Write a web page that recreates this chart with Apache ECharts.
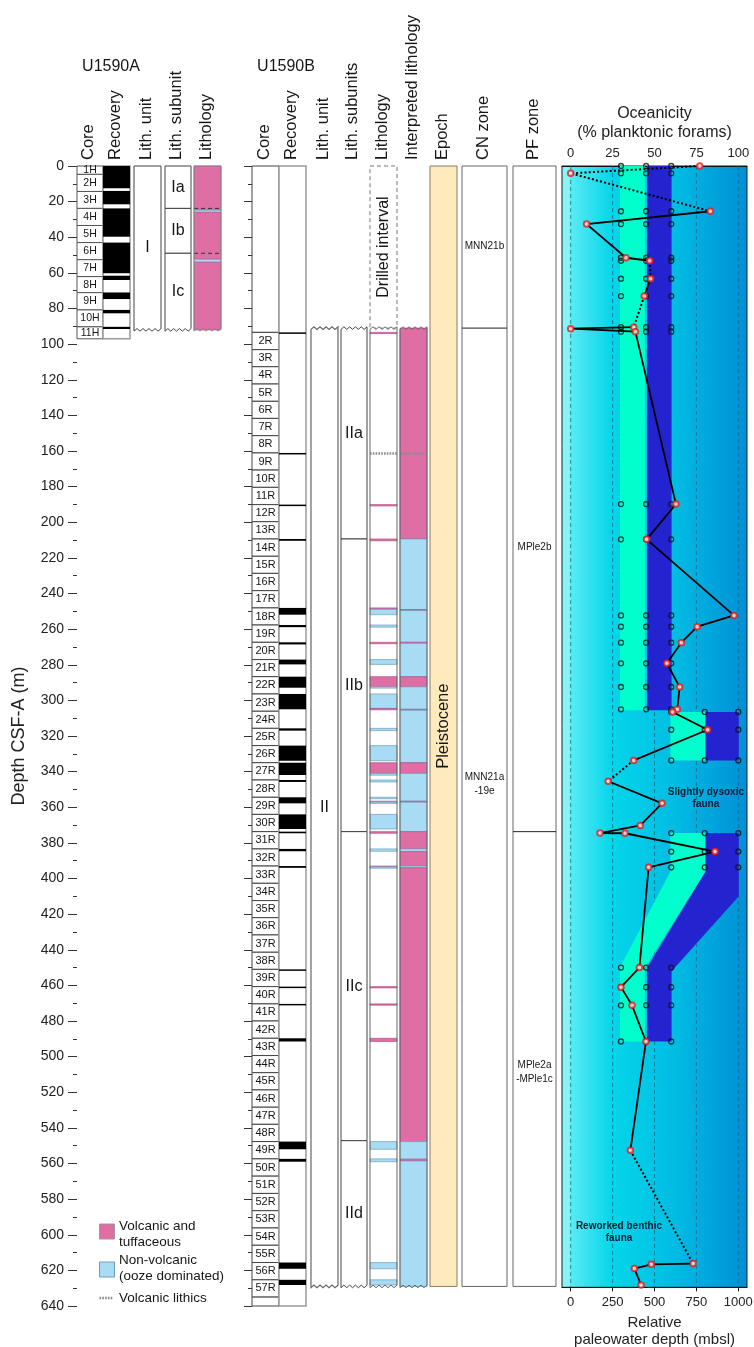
<!DOCTYPE html>
<html>
<head>
<meta charset="utf-8">
<script src="https://cdn.jsdelivr.net/npm/echarts@6/dist/echarts.min.js"></script>
<style>
  html, body { margin: 0; padding: 0; background: #fff; }
  #chart { width: 754px; height: 1347px; }
</style>
</head>
<body>
<div id="chart"></div>
<script>
// ---------------- Hole U1590A ----------------
const coreNamesA = ['1H', '2H', '3H', '4H', '5H', '6H', '7H', '8H', '9H', '10H', '11H'];
const coreTopsA = [0, 4.7, 14.3, 23.8, 33.4, 43.0, 52.6, 62.1, 71.1, 80.8, 90.3];
const holeBottomA = 97;
const recoveredA = [[0, 12.5], [14, 21.5], [23.8, 39.7], [43, 60.2], [61.6, 64], [71, 74.7], [80.8, 82.7], [90.3, 91.5]];
const unitsA = [['I', 0, 92]];
const subunitsA = [['Ia', 0, 23.8], ['Ib', 23.8, 49], ['Ic', 49, 92]];
const lithologyA = [['V', 0, 24.8], ['N', 24.8, 26], ['V', 26, 52.4], ['N', 52.4, 54], ['V', 54, 92]];

// ---------------- Hole U1590B ----------------
const coreNamesB = ['2R', '3R', '4R', '5R', '6R', '7R', '8R', '9R', '10R', '11R', '12R', '13R', '14R', '15R',
  '16R', '17R', '18R', '19R', '20R', '21R', '22R', '23R', '24R', '25R', '26R', '27R', '28R', '29R', '30R',
  '31R', '32R', '33R', '34R', '35R', '36R', '37R', '38R', '39R', '40R', '41R', '42R', '43R', '44R', '45R',
  '46R', '47R', '48R', '49R', '50R', '51R', '52R', '53R', '54R', '55R', '56R', '57R', ''];
const coreTopsB = [93.4, 103.1, 112.7, 122.4, 132.1, 141.7, 151.4, 161.1, 170.7, 180.4, 190.1, 199.7, 209.4,
  219.1, 228.7, 238.4, 248.1, 257.7, 267.4, 277.1, 286.7, 296.4, 306.1, 315.7, 325.4, 335.0, 344.7, 354.4,
  364.0, 373.7, 383.4, 393.0, 402.7, 412.4, 422.0, 431.7, 441.4, 451.0, 460.7, 470.4, 480.0, 489.7, 499.4,
  509.0, 518.7, 528.4, 538.0, 547.7, 557.4, 567.1, 576.8, 586.5, 596.2, 605.9, 615.6, 625.3, 635.0];
const holeBottomB = 640;
const recoveredB = [[93.4, 94.0], [161.1, 161.7], [190.1, 190.7], [209.4, 210.4], [248.1, 251.9], [257.7, 258.9],
  [267.4, 268.6], [277.1, 279.8], [286.7, 292.9], [296.4, 305.0], [315.7, 317.0], [325.4, 333.9], [335.0, 341.9],
  [344.7, 345.8], [354.4, 357.8], [364.0, 372.2], [373.7, 374.6], [383.4, 384.7], [393.0, 394.0], [451.0, 451.5],
  [460.7, 461.3], [470.4, 470.9], [489.7, 491.5], [547.7, 552.0], [557.4, 559.0], [615.6, 619.1], [625.3, 628.2]];
const drilledIntervalB = [0, 91];
const unitsB = [['II', 91, 629]];
const subunitsB = [['IIa', 91, 209.4], ['IIb', 209.4, 373.7], ['IIc', 373.7, 547.2], ['IId', 547.2, 629]];
// V = volcanic and tuffaceous, N = non-volcanic (ooze), L = volcanic lithics
const lithologyB = [['V', 93.4, 94.0], ['L', 161.1, 161.7], ['V', 190.1, 190.7], ['V', 209.4, 210.4],
  ['V', 248.1, 248.9], ['N', 248.9, 251.9], ['N', 257.7, 258.9], ['V', 267.4, 268.2], ['N', 277.1, 279.8],
  ['V', 286.7, 292.4], ['N', 292.4, 292.9], ['N', 296.4, 304.5], ['V', 304.5, 305.3], ['N', 315.7, 317.0],
  ['N', 325.4, 333.9], ['V', 335.0, 341.0], ['N', 341.0, 342.0], ['N', 344.7, 345.8], ['N', 354.4, 355.2],
  ['V', 356.6, 357.1], ['N', 357.1, 357.8], ['N', 364.0, 372.2], ['V', 373.7, 374.6], ['N', 383.4, 384.7],
  ['V', 393.0, 393.5], ['N', 393.5, 394.0], ['V', 460.7, 461.3], ['V', 470.4, 470.9], ['V', 489.7, 491.5],
  ['N', 547.7, 552.0], ['N', 557.4, 559.0], ['N', 615.6, 619.1], ['N', 625.3, 628.2]];
const interpLithologyB = [['V', 91, 209.4], ['N', 209.4, 249.0], ['V', 249.0, 249.6], ['N', 249.6, 267.4],
  ['V', 267.4, 268.0], ['N', 268.0, 286.7], ['V', 286.7, 292.4], ['N', 292.4, 305.0], ['V', 305.0, 305.6],
  ['N', 305.6, 335.0], ['V', 335.0, 341.0], ['N', 341.0, 356.6], ['V', 356.6, 357.2], ['N', 357.2, 373.7],
  ['V', 373.7, 383.4], ['N', 383.4, 384.9], ['V', 384.9, 393.0], ['N', 393.0, 394.0], ['V', 394.0, 547.7],
  ['N', 547.7, 557.6], ['V', 557.6, 558.6], ['N', 558.6, 629], ['L', 161.1, 161.7]];
const epochs = [['Pleistocene', 0, 629]];
const cnZones = [['MNN21b', 0, 91, 45], ['MNN21a\n-19e', 91, 629, 347]];
const pfZones = [['MPle2b', 0, 373.7, 214], ['MPle2a\n-MPle1c', 373.7, 629, 509]];

// ---------------- Oceanicity / paleowater depth ----------------
const oceanDepth = [0, 4.1, 25.4, 32.6, 51.5, 53.2, 63.3, 73, 90.5, 91.3, 93, 189.8, 209.6, 252.3, 258.6,
  267.6, 279.2, 292.5, 305, 306.5, 316.5, 333.7, 345.4, 357.8, 370.2, 374.5, 374.6, 384.9, 393.7, 450, 461,
  471.2, 491.5, 552.6, 616.2, 616.6, 619, 628.2];
const oceanicity = [77, 0, 83.3, 9.5, 33, 47.1, 47.7, 43.9, 37.6, 0, 38.6, 62.8, 45.3, 97.4, 75.5, 66, 57.4,
  65, 63.6, 60.8, 81.7, 37.6, 22.4, 54.5, 41.5, 17.5, 32.4, 86.1, 46.5, 41, 30, 36.6, 44.9, 35.6, 73, 48.1, 38, 42];
// segments (index -> index+1) that are uncertain and drawn dotted
const dottedAfter = [0, 1, 5, 7, 21, 33];
const pwdShallowDepths = [0, 4.1, 25.4, 32.6, 51.5, 53.2, 63.3, 73, 90.5, 93, 189.8, 209.6, 252.3, 258.6, 267.6,
  279.2, 292.5, 305, 450, 461, 471.2, 491.5];
const pwdShallowValues = [300, 450, 600];
const pwdDeepDepths = [306.5, 316.5, 333.7, 374.5, 384.9, 393.7];
const pwdDeepValues = [600, 800, 1000];
// paleowater depth envelopes: [mbsl, depth] vertices
const pwdBandLower = [
  [[294, 0], [443, 0], [443, 305.5], [294, 305.5]],
  [[595, 306.5], [805, 306.5], [805, 333.7], [595, 333.7]],
  [[595, 374.5], [805, 374.5], [805, 396], [443, 450], [443, 491.5], [294, 491.5], [294, 450], [595, 396]]
];
const pwdBandUpper = [
  [[455, 0], [602, 0], [602, 305.5], [455, 305.5]],
  [[805, 306.5], [1003, 306.5], [1003, 333.7], [805, 333.7]],
  [[805, 374.5], [1003, 374.5], [1003, 410], [602, 452], [602, 491.5], [455, 491.5], [455, 450], [805, 396]]
];
const faunaNotes = [['Slightly dysoxic\nfauna', 807, 355], ['Reworked benthic\nfauna', 288, 598.5]];
const oceanTicks = [0, 25, 50, 75, 100];
const pwdTicks = [0, 250, 500, 750, 1000];

// ---------------- layout & styles ----------------
const FAMILY = '"Liberation Sans", Arial, Helvetica, sans-serif';
const TOP = 166;
const PX_PER_M = 1140 / 640;
const OCEAN_MAX = 629.5;
const LITH_FILL = { V: '#DE6EA3', N: '#A8DCF5' };
const LITH_EDGE = { V: '#B5528A', N: '#6E9DB8' };
const LAYOUT = {
  aCore: [77, 26], aRec: [103, 27], aUnit: [134, 27], aSub: [165, 26], aLith: [194, 27],
  bCore: [252, 27], bRec: [279, 27], bUnit: [311, 27], bSub: [341, 26], bLith: [370, 27], bInterp: [400, 27],
  epoch: [430, 27], cn: [462, 45], pf: [513, 43]
};

const grid = [], xAxis = [], yAxis = [], series = [];
const gi = {};
Object.keys(LAYOUT).forEach((k, i) => {
  const [l, w] = LAYOUT[k];
  gi[k] = i;
  grid.push({ left: l, width: w, top: TOP, height: 1140, outerBoundsMode: 'none' });
  xAxis.push({ gridIndex: i, type: 'value', min: 0, max: 1, show: false });
  yAxis.push({ gridIndex: i, type: 'value', min: 0, max: 640, inverse: true, show: false });
});

// depth axis with labels, left of hole A
yAxis[gi.aCore] = {
  gridIndex: gi.aCore, type: 'value', min: 0, max: 640, interval: 20, inverse: true,
  axisLine: { show: false },
  axisTick: { show: true, length: 9, lineStyle: { color: '#333', width: 1 } },
  minorTick: { show: true, splitNumber: 2, length: 4, lineStyle: { color: '#333', width: 1 } },
  splitLine: { show: false },
  axisLabel: { fontSize: 14, color: '#222', margin: 13, fontFamily: FAMILY },
  name: 'Depth CSF-A (m)', nameLocation: 'middle', nameRotate: 90, nameGap: 49,
  nameTextStyle: { fontSize: 18, color: '#222', fontFamily: FAMILY }
};
// tick-only depth axis for hole B
yAxis[gi.bCore] = {
  gridIndex: gi.bCore, type: 'value', min: 0, max: 640, interval: 20, inverse: true,
  axisLine: { show: false },
  axisTick: { show: true, length: 8, lineStyle: { color: '#333', width: 1 } },
  minorTick: { show: true, splitNumber: 2, length: 4, lineStyle: { color: '#333', width: 1 } },
  splitLine: { show: false }, axisLabel: { show: false }
};

function edge(x0, x1, y, zig) {
  if (!zig) return [[x0, y], [x1, y]];
  const n = Math.max(2, Math.round((x1 - x0) / 3));
  const pts = [];
  for (let i = 0; i <= n; i++) pts.push([x0 + (x1 - x0) * i / n, y + (i % 2 ? -1.3 : 1.3)]);
  return pts;
}

function renderColumn(items) {
  return function (params, api) {
    const it = items[params.dataIndex];
    const a = api.coord([0, it.top]);
    const x0 = a[0], x1 = api.coord([1, it.top])[0], y0 = a[1];
    const children = [];
    if (it.bottom == null) {
      children.push({ type: 'line', shape: { x1: x0, y1: y0, x2: x1, y2: y0 },
        style: { stroke: it.stroke, lineWidth: it.lw || 1, lineDash: it.dash || null } });
    } else {
      let y1 = api.coord([0, it.bottom])[1];
      if (it.minPx && y1 - y0 < it.minPx) y1 = y0 + it.minPx;
      if (it.fill || it.stroke) {
        const pts = edge(x0, x1, y0, it.zigTop).concat(edge(x0, x1, y1, it.zigBottom).reverse());
        children.push({ type: 'polygon', shape: { points: pts },
          style: { fill: it.fill || 'none', stroke: it.stroke || null, lineWidth: it.lw || 1, lineDash: it.dash || null } });
      }
      if (it.text) {
        const ty = it.textDepth != null ? api.coord([0, it.textDepth])[1] : (y0 + y1) / 2;
        children.push({ type: 'text', x: (x0 + x1) / 2, y: ty, rotation: it.vertical ? Math.PI / 2 : 0,
          style: { text: it.text, fontSize: it.fontSize || 15, fontFamily: FAMILY, fill: '#161616',
            align: 'center', verticalAlign: 'middle', textAlign: 'center', textVerticalAlign: 'middle',
            lineHeight: it.lineHeight || null } });
      }
    }
    return { type: 'group', children };
  };
}

function column(key, items, z) {
  series.push({
    type: 'custom', coordinateSystem: 'cartesian2d', xAxisIndex: gi[key], yAxisIndex: gi[key],
    silent: true, clip: false, z: z || 2, animation: false,
    data: items.map(it => [0.5, it.top]),
    renderItem: renderColumn(items)
  });
}

function lithItems(list) {
  return list.map(([code, top, bottom]) => code === 'L'
    ? { top: (top + bottom) / 2, stroke: '#8a8a8a', lw: 2.6, dash: [1.6, 1.2] }
    : { top, bottom, fill: LITH_FILL[code], stroke: LITH_EDGE[code], lw: 0.7, minPx: 1.3 });
}

// ----- U1590A columns -----
column('aCore', coreNamesA.map((n, i) => ({ top: coreTopsA[i], bottom: i + 1 < coreTopsA.length ? coreTopsA[i + 1] : holeBottomA,
  fill: '#fff', stroke: '#555', lw: 1, text: n, fontSize: 10.5 })));
column('aRec', [{ top: 0, bottom: holeBottomA, fill: '#fff', stroke: '#999', lw: 1.5 }]
  .concat(recoveredA.map(([t, b]) => ({ top: t, bottom: b, fill: '#000', minPx: 1.5 }))));
column('aUnit', unitsA.map(([n, t, b]) => ({ top: t, bottom: b, fill: '#fff', stroke: '#444', zigBottom: true, text: n, fontSize: 16 })));
column('aSub', subunitsA.map(([n, t, b], i) => ({ top: t, bottom: b, fill: '#fff', stroke: '#444',
  zigBottom: i === subunitsA.length - 1, text: n, fontSize: 16 })));
column('aLith', lithItems(lithologyA)
  .concat(subunitsA.slice(1).map(([n, t]) => ({ top: t, stroke: '#333', lw: 1, dash: [4, 3] })))
  .concat([{ top: 0, bottom: 92, fill: 'none', stroke: '#888', lw: 1, zigBottom: true }]));

// ----- U1590B columns -----
column('bCore', [{ top: 0, bottom: coreTopsB[0], fill: '#fff', stroke: '#444' }].concat(
  coreNamesB.map((n, i) => ({ top: coreTopsB[i], bottom: i + 1 < coreTopsB.length ? coreTopsB[i + 1] : holeBottomB,
    fill: '#fff', stroke: '#444', lw: 1, text: n, fontSize: 11 }))));
column('bRec', [{ top: 0, bottom: holeBottomB, fill: '#fff', stroke: '#9a9a9a', lw: 1.5 }]
  .concat(recoveredB.map(([t, b]) => ({ top: t, bottom: b, fill: '#000', minPx: 1.5 }))));
column('bUnit', unitsB.map(([n, t, b]) => ({ top: t, bottom: b, fill: '#fff', stroke: '#666', lw: 1.2,
  zigTop: true, zigBottom: true, text: n, fontSize: 16 })));
column('bSub', subunitsB.map(([n, t, b], i) => ({ top: t, bottom: b, fill: '#fff', stroke: '#444',
  zigTop: i === 0, zigBottom: i === subunitsB.length - 1, text: n, fontSize: 16 })));
column('bLith', [
  { top: drilledIntervalB[0], bottom: drilledIntervalB[1], fill: '#fff', stroke: '#777', dash: [4, 3], lw: 1,
    text: 'Drilled interval', vertical: true, fontSize: 16 },
  { top: 91, bottom: 629, fill: '#fff', stroke: null, zigTop: true, zigBottom: true }
].concat(lithItems(lithologyB))
 .concat([{ top: 91, bottom: 629, fill: 'none', stroke: '#666', lw: 1, zigTop: true, zigBottom: true }]));
column('bInterp', lithItems(interpLithologyB)
  .concat([{ top: 91, bottom: 629, fill: 'none', stroke: '#666', lw: 1, zigTop: true, zigBottom: true }]));
column('epoch', epochs.map(([n, t, b]) => ({ top: t, bottom: b, fill: '#FDEBBE', stroke: '#8C7C5C', lw: 1,
  text: n, vertical: true, fontSize: 16.5 })));
column('cn', [{ top: 0, bottom: 629, fill: '#fff', stroke: '#666', lw: 1 }]
  .concat(cnZones.slice(1).map(z => ({ top: z[1], stroke: '#222', lw: 1 })))
  .concat(cnZones.map(([n, t, b, c]) => ({ top: t, bottom: b, text: n, textDepth: c, fontSize: 10, lineHeight: 14 }))));
column('pf', [{ top: 0, bottom: 629, fill: '#fff', stroke: '#666', lw: 1 }]
  .concat(pfZones.slice(1).map(z => ({ top: z[1], stroke: '#222', lw: 1 })))
  .concat(pfZones.map(([n, t, b, c]) => ({ top: t, bottom: b, text: n, textDepth: c, fontSize: 10, lineHeight: 14 }))));

// ----- oceanicity / paleowater depth panel -----
const OG = grid.length;
grid.push({
  left: 562, width: 185, top: TOP, height: OCEAN_MAX * PX_PER_M, outerBoundsMode: 'none', show: true,
  borderColor: '#1c1c1c', borderWidth: 1,
  backgroundColor: new echarts.graphic.LinearGradient(0, 0, 1, 0, [
    { offset: 0, color: '#8CF6F6' }, { offset: 0.045, color: '#84F3F5' },
    { offset: 0.048, color: '#5CEBF2' }, { offset: 0.27, color: '#04D6EA' },
    { offset: 0.6, color: '#00BDE3' }, { offset: 0.78, color: '#00A8DE' }, { offset: 1, color: '#008FD6' }
  ])
});
const plainNumber = v => String(v);
const OX_TOP = xAxis.length;
xAxis.push({
  gridIndex: OG, type: 'value', position: 'top', min: -5.19, max: 105.2,
  axisLine: { show: true, lineStyle: { color: '#111', width: 1 } },
  axisTick: { show: false }, splitLine: { show: false },
  axisLabel: { customValues: oceanTicks, formatter: plainNumber, fontSize: 13, color: '#222', margin: 6, fontFamily: FAMILY },
  name: 'Oceanicity\n(% planktonic forams)', nameLocation: 'middle', nameGap: 22,
  nameTextStyle: { fontSize: 16, lineHeight: 19, color: '#222', fontFamily: FAMILY }
});
const OX_BOT = xAxis.length;
xAxis.push({
  gridIndex: OG, type: 'value', position: 'bottom', min: -51.9, max: 1052,
  axisLine: { show: true, lineStyle: { color: '#111', width: 1 } },
  axisTick: { show: true, customValues: pwdTicks, length: 4, lineStyle: { color: '#111' } },
  splitLine: { show: false },
  axisLabel: { customValues: pwdTicks, formatter: plainNumber, fontSize: 13, color: '#222', margin: 9, fontFamily: FAMILY },
  name: 'Relative\npaleowater depth (mbsl)', nameLocation: 'middle', nameGap: 20,
  nameTextStyle: { fontSize: 15, lineHeight: 17, color: '#222', fontFamily: FAMILY }
});
const OY = yAxis.length;
yAxis.push({ gridIndex: OG, type: 'value', min: 0, max: OCEAN_MAX, inverse: true, show: false });

// dashed reference lines
series.push({
  type: 'custom', xAxisIndex: OX_BOT, yAxisIndex: OY, z: 1, silent: true, animation: false,
  data: pwdTicks.map(v => [v, 0]),
  renderItem: (params, api) => {
    const v = api.value(0);
    const a = api.coord([v, 0]), b = api.coord([v, OCEAN_MAX]);
    return { type: 'line', shape: { x1: a[0], y1: a[1], x2: b[0], y2: b[1] },
      style: { stroke: '#17657D', lineWidth: 1, lineDash: [4, 3], opacity: 0.75 } };
  }
});
function bandSeries(polys, color) {
  series.push({
    type: 'custom', xAxisIndex: OX_BOT, yAxisIndex: OY, z: 2, silent: true, animation: false, clip: false,
    data: polys.map(p => p[0]),
    renderItem: (params, api) => ({
      type: 'polygon', shape: { points: polys[params.dataIndex].map(v => api.coord(v)) },
      style: { fill: color, stroke: null }
    })
  });
}
bandSeries(pwdBandLower, '#00FFCC');
bandSeries(pwdBandUpper, '#2323CF');

// paleowater depth estimates (open circles)
const pwdPoints = [];
pwdShallowDepths.forEach(d => pwdShallowValues.forEach(v => pwdPoints.push([v, d])));
pwdDeepDepths.forEach(d => pwdDeepValues.forEach(v => pwdPoints.push([v, d])));
series.push({
  type: 'scatter', xAxisIndex: OX_BOT, yAxisIndex: OY, z: 3, silent: true, animation: false,
  symbol: 'circle', symbolSize: 5, data: pwdPoints,
  itemStyle: { color: 'rgba(0,0,0,0)', borderColor: '#111', borderWidth: 1.3 }
});

// oceanicity profile: solid and dotted segments
function profile(dotted) {
  const out = [];
  for (let i = 0; i < oceanDepth.length - 1; i++) {
    if (dottedAfter.includes(i) !== dotted) continue;
    const a = [oceanicity[i], oceanDepth[i]], b = [oceanicity[i + 1], oceanDepth[i + 1]];
    const last = out[out.length - 1];
    if (!last || last[0] !== a[0] || last[1] !== a[1]) {
      if (out.length) out.push(['-', '-']);
      out.push(a);
    }
    out.push(b);
  }
  return out;
}
series.push({
  type: 'line', xAxisIndex: OX_TOP, yAxisIndex: OY, z: 4, silent: true, animation: false, clip: false,
  showSymbol: false, symbol: 'none', connectNulls: false, data: profile(false),
  lineStyle: { color: '#000', width: 1.8 }
});
series.push({
  type: 'line', xAxisIndex: OX_TOP, yAxisIndex: OY, z: 4, silent: true, animation: false, clip: false,
  showSymbol: false, symbol: 'none', connectNulls: false, data: profile(true),
  lineStyle: { color: '#000', width: 2, type: [2, 2.2] }
});
series.push({
  type: 'scatter', xAxisIndex: OX_TOP, yAxisIndex: OY, z: 5, silent: true, animation: false, clip: false,
  symbol: 'circle', symbolSize: 5.5, data: oceanicity.map((v, i) => [v, oceanDepth[i]]),
  itemStyle: { color: '#fff', borderColor: '#F01818', borderWidth: 2 }
});
series.push({
  type: 'custom', xAxisIndex: OX_BOT, yAxisIndex: OY, z: 6, silent: true, animation: false,
  data: faunaNotes.map(n => [n[1], n[2]]),
  renderItem: (params, api) => {
    const p = api.coord([api.value(0), api.value(1)]);
    return { type: 'text', x: p[0], y: p[1], style: { text: faunaNotes[params.dataIndex][0],
      fontSize: 10, fontWeight: 'bold', fontFamily: FAMILY, fill: '#0E1A33', lineHeight: 12,
      align: 'center', verticalAlign: 'middle', textAlign: 'center', textVerticalAlign: 'middle' } };
  }
});

// ---------------- headers & legend ----------------
const headersA = ['Core', 'Recovery', 'Lith. unit', 'Lith. subunit', 'Lithology'];
const headersB = ['Core', 'Recovery', 'Lith. unit', 'Lith. subunits', 'Lithology', 'Interpreted lithology', 'Epoch', 'CN zone', 'PF zone'];
const colKeysA = ['aCore', 'aRec', 'aUnit', 'aSub', 'aLith'];
const colKeysB = ['bCore', 'bRec', 'bUnit', 'bSub', 'bLith', 'bInterp', 'epoch', 'cn', 'pf'];
const graphic = [];
function label(text, x, y, size, extra) {
  graphic.push(Object.assign({ type: 'text', x, y, silent: true,
    style: { text, fontSize: size, fontFamily: FAMILY, fill: '#161616', align: 'left', verticalAlign: 'middle',
      textAlign: 'left', textVerticalAlign: 'middle' } }, extra || {}));
}
function headerRow(names, keys) {
  names.forEach((n, i) => {
    const [l, w] = LAYOUT[keys[i]];
    label(n, l + w / 2 - 1.5, 160, 16.5, { rotation: Math.PI / 2 });
  });
}
headerRow(headersA, colKeysA);
headerRow(headersB, colKeysB);
graphic.push({ type: 'text', x: 111, y: 67, silent: true, style: { text: 'U1590A', fontSize: 16, fontFamily: FAMILY,
  fill: '#161616', align: 'center', verticalAlign: 'middle', textAlign: 'center', textVerticalAlign: 'middle' } });
graphic.push({ type: 'text', x: 286, y: 67, silent: true, style: { text: 'U1590B', fontSize: 16, fontFamily: FAMILY,
  fill: '#161616', align: 'center', verticalAlign: 'middle', textAlign: 'center', textVerticalAlign: 'middle' } });

// legend
graphic.push({ type: 'rect', silent: true, shape: { x: 99.5, y: 1224, width: 15, height: 15 },
  style: { fill: LITH_FILL.V, stroke: '#9a9a9a', lineWidth: 1 } });
label('Volcanic and\ntuffaceous', 119, 1234.5, 13.5, { style: { text: 'Volcanic and\ntuffaceous', fontSize: 13.5,
  fontFamily: FAMILY, fill: '#161616', lineHeight: 16, align: 'left', verticalAlign: 'middle', textAlign: 'left', textVerticalAlign: 'middle' } });
graphic.push({ type: 'rect', silent: true, shape: { x: 99.5, y: 1262, width: 15, height: 15 },
  style: { fill: LITH_FILL.N, stroke: '#6E9DB8', lineWidth: 1 } });
label('Non-volcanic\n(ooze dominated)', 119, 1268, 13.5, { style: { text: 'Non-volcanic\n(ooze dominated)', fontSize: 13.5,
  fontFamily: FAMILY, fill: '#161616', lineHeight: 16, align: 'left', verticalAlign: 'middle', textAlign: 'left', textVerticalAlign: 'middle' } });
graphic.push({ type: 'line', silent: true, shape: { x1: 99.5, y1: 1298, x2: 113, y2: 1298 },
  style: { stroke: '#8a8a8a', lineWidth: 2.6, lineDash: [1.6, 1.2] } });
label('Volcanic lithics', 119, 1298, 13.5);

const chart = echarts.init(document.getElementById('chart'), null, { renderer: 'canvas' });
chart.setOption({
  animation: false,
  backgroundColor: '#fff',
  textStyle: { fontFamily: FAMILY },
  grid, xAxis, yAxis, series, graphic
});
</script>
</body>
</html>
